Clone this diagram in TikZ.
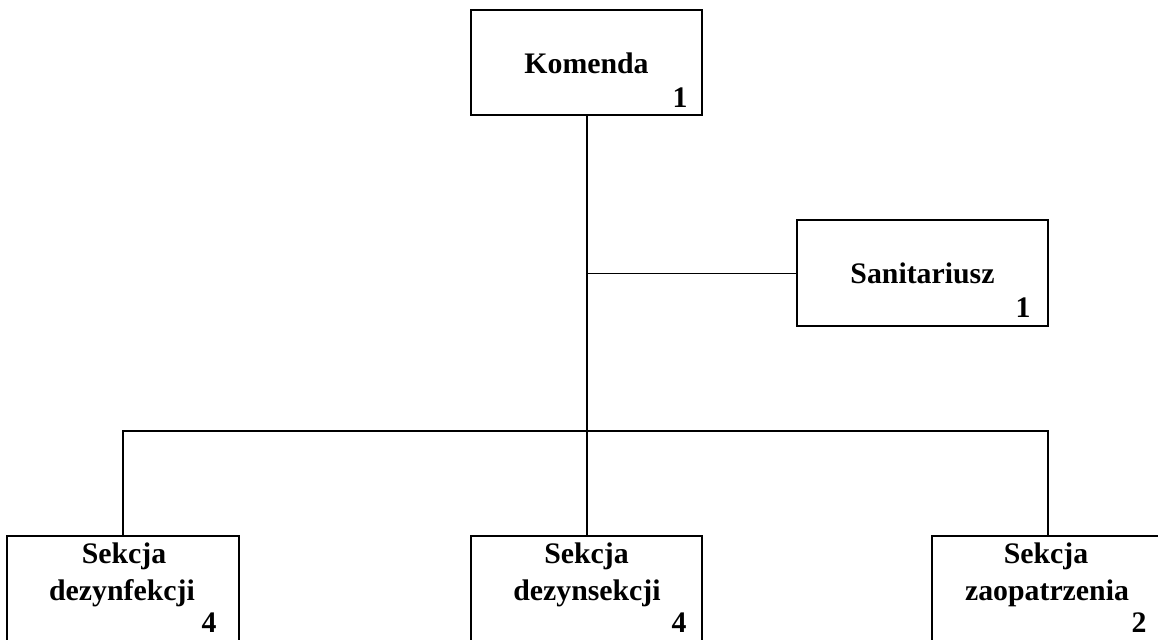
\documentclass[tikz,border=0pt]{standalone}
\usepackage{fontspec}
\setmainfont{Liberation Serif}
\usepackage{tikz}

\begin{document}
\begin{tikzpicture}[x=0.5pt, y=-0.5pt,
    unit/.style={draw, line width=1.25pt, inner sep=0pt, minimum width=115.5pt, minimum height=52.5pt},
    caption/.style={inner sep=0pt, anchor=base, font=\bfseries\fontsize{14.9}{18}\selectfont},
    count/.style={inner sep=0pt, anchor=base east, font=\bfseries\fontsize{14.9}{18}\selectfont},
    link/.style={line width=1pt}]
    \clip (0,0) rectangle (1158,639);

    \node[unit] (kom) at (586.5,62.5) {};
    \node[unit, minimum width=125.5pt, minimum height=53pt] (san) at (922.5,273) {};
    \node[unit, minimum width=116pt] (dez) at (123,588.5) {};
    \node[unit] (dzs) at (586.5,588.5) {};
    \node[unit] (zao) at (1047.5,588.5) {};

    \node[caption] (kom-t) at (586.5,73) {Komenda};
    \node[count] (kom-n) at (688,107) {1};
    \node[caption] (san-t) at (922.5,283) {Sanitariusz};
    \node[count] (san-n) at (1031,317) {1};

    \node[caption] (dez-t1) at (124,563) {Sekcja};
    \node[caption] (dez-t2) at (122,600) {dezynfekcji};
    \node[count] (dez-n) at (217,632) {4};
    \node[caption] (dzs-t1) at (586.5,563) {Sekcja};
    \node[caption] (dzs-t2) at (587,600) {dezynsekcji};
    \node[count] (dzs-n) at (687,632) {4};
    \node[caption] (zao-t1) at (1046,563) {Sekcja};
    \node[caption] (zao-t2) at (1047,600) {zaopatrzenia};
    \node[count] (zao-n) at (1147,632) {2};

    \coordinate (hub) at (586.5,431);
    \draw[link] (kom.south) -- (hub);
    \draw[line width=0.5pt] (san.west) -- (san.west -| kom.south);
    \draw[link] (dez.north) |- (hub) -| (zao.north);
    \draw[link] (hub) -- (dzs.north);
\end{tikzpicture}
\end{document}
